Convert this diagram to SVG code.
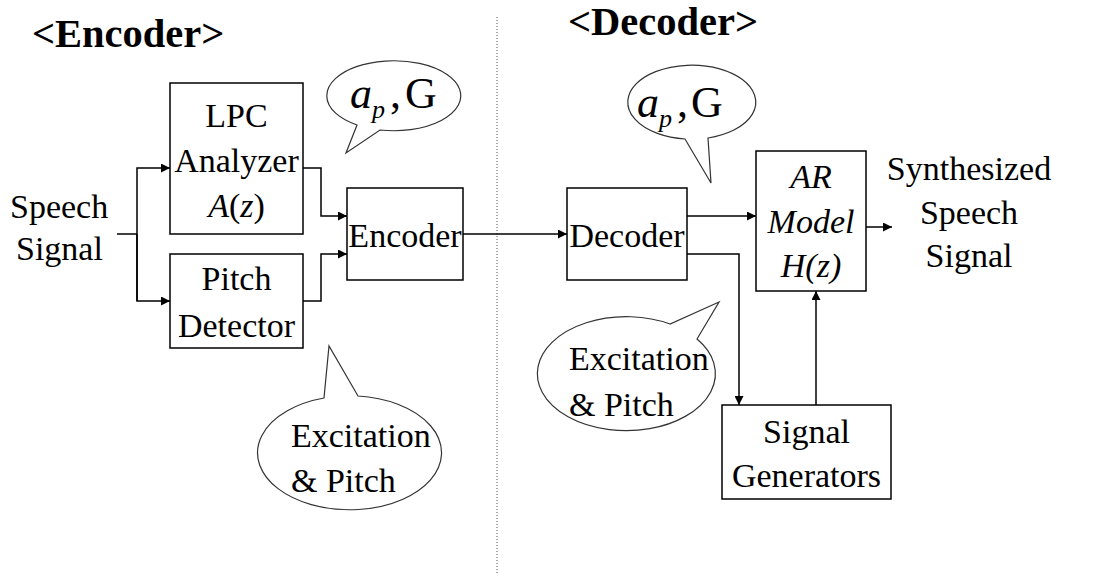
<svg xmlns="http://www.w3.org/2000/svg" width="1118" height="574" viewBox="0 0 1118 574" font-family="'Liberation Serif', serif">
<style>
text, tspan{font-family:"Liberation Serif", serif;fill:#000}
.t{font-size:34px}
.h{font-size:40.5px;font-weight:bold}
.box{fill:#fff;stroke:#000;stroke-width:1.5}
.ln{fill:none;stroke:#000;stroke-width:1.5}
.bub{fill:#fff;stroke:#333;stroke-width:1.2}
.m{font-size:44px}
</style>
<defs>
<marker id="ah" viewBox="0 0 10 10" refX="10" refY="5" markerWidth="10" markerHeight="9" markerUnits="userSpaceOnUse" orient="auto">
<path d="M0,0 L10,5 L0,10 z" fill="#000"/>
</marker>
</defs>
<rect width="1118" height="574" fill="#fff"/>
<line x1="497" y1="17" x2="497" y2="574" stroke="#555" stroke-width="1" stroke-dasharray="1,2"/>
<text class="h" x="32" y="47">&lt;Encoder&gt;</text>
<text class="h" x="568" y="35">&lt;Decoder&gt;</text>
<g id="speech-in"><text class="t" x="10" y="218">Speech</text><text class="t" x="16" y="260">Signal</text></g>
<g id="lpc"><rect class="box" x="170" y="83" width="133" height="151"/>
<text class="t" x="236.5" y="127" text-anchor="middle">LPC</text>
<text class="t" x="236.5" y="172" text-anchor="middle">Analyzer</text>
<text class="t" x="236.5" y="217" text-anchor="middle"><tspan font-style="italic">A</tspan>(<tspan font-style="italic">z</tspan>)</text></g>
<g id="pitch"><rect class="box" x="170" y="254" width="133" height="94"/>
<text class="t" x="236.5" y="290" text-anchor="middle">Pitch</text>
<text class="t" x="236.5" y="337" text-anchor="middle">Detector</text></g>
<g id="encoder"><rect class="box" x="347" y="188" width="116" height="92"/>
<text class="t" x="405" y="247" text-anchor="middle">Encoder</text></g>
<g id="decoder"><rect class="box" x="567" y="188" width="120" height="92"/>
<text class="t" x="627" y="247" text-anchor="middle">Decoder</text></g>
<g id="ar"><rect class="box" x="756" y="151" width="110" height="140"/>
<text class="t" x="811" y="188" text-anchor="middle" font-style="italic">AR</text>
<text class="t" x="811" y="233" text-anchor="middle" font-style="italic">Model</text>
<text class="t" x="811" y="277" text-anchor="middle" font-style="italic">H(z)</text></g>
<g id="siggen"><rect class="box" x="722" y="405" width="169" height="94"/>
<text class="t" x="806.5" y="443" text-anchor="middle">Signal</text>
<text class="t" x="806.5" y="487" text-anchor="middle">Generators</text></g>
<g id="speech-out"><text class="t" x="969" y="180" text-anchor="middle">Synthesized</text>
<text class="t" x="969" y="224" text-anchor="middle">Speech</text>
<text class="t" x="969" y="267" text-anchor="middle">Signal</text></g>
<g id="connectors">
<polyline class="ln" points="117,234 137,234"/>
<polyline class="ln" points="137,301 137,168 170,168" marker-end="url(#ah)"/>
<polyline class="ln" points="137,234 137,301 170,301" marker-end="url(#ah)"/>
<polyline class="ln" points="303,168 321,168 321,216 347,216" marker-end="url(#ah)"/>
<polyline class="ln" points="303,301 321,301 321,254 347,254" marker-end="url(#ah)"/>
<polyline class="ln" points="463,234 567,234" marker-end="url(#ah)"/>
<polyline class="ln" points="687,216 756,216" marker-end="url(#ah)"/>
<polyline class="ln" points="687,254 739,254 739,405" marker-end="url(#ah)"/>
<polyline class="ln" points="816,405 816,291" marker-end="url(#ah)"/>
<polyline class="ln" points="866,227 892,227" marker-end="url(#ah)"/>
</g>
<g id="bubble-enc-ap">
<path class="bub" d="M357,125 A67,35 0 1 1 380,130 L346,153 Z"/>
<text x="350" y="108"><tspan class="m" font-style="italic">a</tspan><tspan font-size="26" font-style="italic" dy="10">p</tspan><tspan class="m" dy="-10" dx="5">,</tspan><tspan class="m" dx="4">G</tspan></text>
</g>
<g id="bubble-dec-ap">
<path class="bub" d="M685,139 A64,37 0 1 1 708,138 L711,183 Z"/>
<text x="637" y="117"><tspan class="m" font-style="italic">a</tspan><tspan font-size="26" font-style="italic" dy="10">p</tspan><tspan class="m" dy="-10" dx="5">,</tspan><tspan class="m" dx="3">G</tspan></text>
</g>
<g id="bubble-enc-ex">
<path class="bub" d="M324,398 A92,57 0 1 0 358,396 L329,346 Z"/>
<text class="t" x="291" y="447">Excitation</text>
<text class="t" x="291" y="492">&amp; Pitch</text>
</g>
<g id="bubble-dec-ex">
<path class="bub" d="M670,324 A89,57 0 1 0 697,339 L719,302 Z"/>
<text class="t" x="569" y="370">Excitation</text>
<text class="t" x="569" y="416">&amp; Pitch</text>
</g>
</svg>
